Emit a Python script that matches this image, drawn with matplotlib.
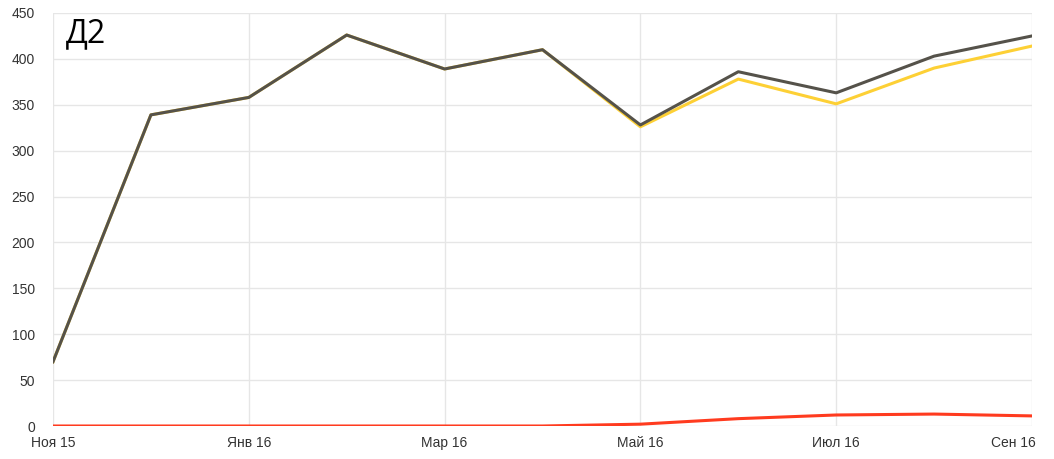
import matplotlib
matplotlib.use("Agg")
import matplotlib.pyplot as plt
import matplotlib.transforms as mtransforms

months = ["Ноя 15", "Дек 15", "Янв 16", "Фев 16", "Мар 16", "Апр 16",
          "Май 16", "Июн 16", "Июл 16", "Авг 16", "Сен 16"]
total = [70, 339, 358, 426, 389, 410, 328, 386, 363, 403, 425]
yellow = [70, 339, 358, 426, 389, 410, 326, 378, 351, 390, 414]
red = [0, 0, 0, 0, 0, 0, 2, 8, 12, 13, 11]
yticks = [0, 50, 100, 150, 200, 250, 300, 350, 400, 450]
title = "Д2"

plt.rcParams['font.family'] = ['Liberation Sans', 'DejaVu Sans']

fig = plt.figure(figsize=(10.54, 4.59), dpi=100)
ax = fig.add_axes([53/1054, 33/459, (1032-53)/1054, (426-13)/459])

x = list(range(len(months)))
ax.plot(x, red, color="#ff3b1f", lw=2.2, zorder=3, solid_capstyle='round')
ax.plot(x, yellow, color="#fdd035", lw=2.2, zorder=4)
ax.plot(x, total, color="#55524a", lw=2.2, zorder=5)

ax.set_xlim(0, len(months)-1)
ax.set_ylim(0, 450)
ax.set_yticks(yticks)
ax.set_yticklabels([str(v) for v in yticks])
ax.set_xticks(x[::2])
ax.set_xticklabels(months[::2])
ax.grid(True, color="#e6e6e6", lw=1)
ax.set_axisbelow(True)
for s in ax.spines.values():
    s.set_visible(False)
ax.tick_params(axis='both', length=0, labelsize=10, colors="#333333")
ax.tick_params(axis='y', pad=13)
ax.tick_params(axis='x', pad=7)
labels = ax.get_xticklabels()
labels[-1].set_horizontalalignment('right')
labels[-1].set_transform(labels[-1].get_transform() + mtransforms.ScaledTranslation(4/100, 0, fig.dpi_scale_trans))

ax.text(0.013, 0.99, title, transform=ax.transAxes, fontsize=23,
        family=['Open Sans', 'DejaVu Sans'], va='top', ha='left', color='black')

fig.savefig("out.png", dpi=100)
